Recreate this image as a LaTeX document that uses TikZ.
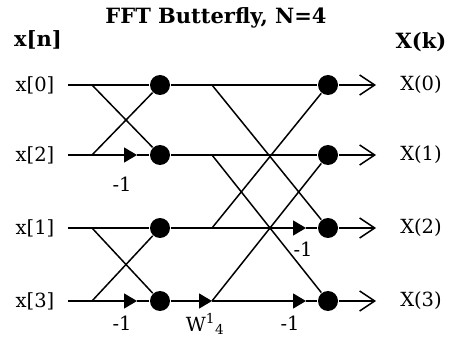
\documentclass[tikz,border=0pt]{standalone}
\usepackage{fontspec}
\setmainfont{DejaVu Serif}
\usepackage{tikz}
\usetikzlibrary{arrows.meta}

\begin{document}
\begin{tikzpicture}[x=10pt, y=-10pt, font=\fontsize{19.5}{22}\selectfont, line width=1.5pt,
  dot/.style={circle, fill=black, inner sep=0pt, minimum size=20pt},
  lbl/.style={inner sep=0pt},
  head/.style={lbl, font=\fontsize{21}{24}\selectfont\bfseries},
  flow/.style={-{Triangle[length=13pt,width=15pt]}},
  outarrow/.style={-{Straight Barb[length=15pt,width=20pt]}}]
\useasboundingbox (0,0) rectangle (45.8,33.9);
\node[head] (title) at (21.6,1.8) {FFT Butterfly, N=4};
\node[head] (xn) at (3.8,4.0) {x[n]};
\node[head] (Xk) at (42.1,4.2) {X(k)};
\foreach \i/\y/\n in {0/8.5/0,1/15.5/2,2/22.8/1,3/30.1/3} {
  \node[lbl] (xin\i) at (3.5,\y) {x[\n]};
  \coordinate (s\i) at (6.8,\y);
  \coordinate (a\i) at (9.2,\y);
  \coordinate (m\i) at (13.7,\y);
  \node[dot] (p\i) at (16.0,\y) {};
  \coordinate (b\i) at (21.2,\y);
  \coordinate (n\i) at (30.6,\y);
  \node[dot] (q\i) at (32.8,\y) {};
  \coordinate (e\i) at (37.6,\y);
  \node[lbl] (X\i) at (42.1,\y) {X(\i)};
}
% stage 1
\draw (s0) -- (p0);
\draw (s2) -- (p2);
\draw[flow] (s1) -- (m1);
\draw (m1) -- (p1);
\draw[flow] (s3) -- (m3);
\draw (m3) -- (p3);
\draw (a0) -- (p1);
\draw (a1) -- (p0);
\draw (a2) -- (p3);
\draw (a3) -- (p2);
% stage 2
\draw (p0) -- (q0);
\draw (p1) -- (q1);
\draw (p2) -- (b2);
\draw[flow] (p3) -- (b3);
\draw[flow] (b2) -- (n2);
\draw[flow] (b3) -- (n3);
\draw (n2) -- (q2);
\draw (n3) -- (q3);
\draw (b0) -- (q2);
\draw (b1) -- (q3);
\draw (b2) -- (q0);
\draw (b3) -- (q1);
\foreach \i in {0,...,3}
  \draw[outarrow] (q\i) -- (e\i);
\node[lbl] (neg1) at (12.2,18.4) {-1};
\node[lbl] (neg2) at (12.2,32.3) {-1};
\node[lbl] (tw) at (20.5,32.4) {W\textsuperscript{1}\textsubscript{4}};
\node[lbl] (neg3) at (30.3,24.9) {-1};
\node[lbl] (neg4) at (29.0,32.3) {-1};
\end{tikzpicture}
\end{document}
